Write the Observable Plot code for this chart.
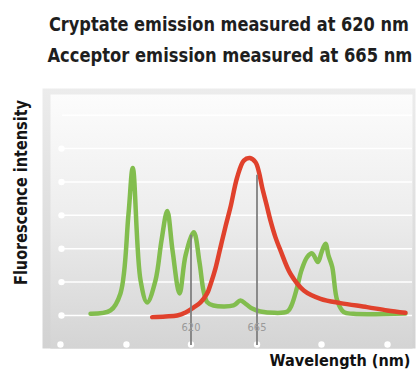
<!DOCTYPE html>
<html><head><meta charset="utf-8">
<script src="https://cdn.jsdelivr.net/npm/d3@7"></script>
<script src="https://cdn.jsdelivr.net/npm/@observablehq/plot@0.6"></script>
<style>
body{margin:0;background:#fff;width:416px;height:379px;overflow:hidden;font-family:"DejaVu Sans",sans-serif;}
#title{position:relative;height:78px;}
.tl{position:absolute;left:29px;width:387px;text-align:center;font-weight:bold;font-size:20px;line-height:20px;color:#1e1e1e;font-stretch:condensed;white-space:nowrap;}
.tl span{display:inline-block;transform-origin:center;}
#chart svg{display:block;overflow:visible;}
#chart svg text{font-stretch:condensed;}
</style></head><body>
<div id="title">
  <div class="tl" style="top:14px"><span data-w="360">Cryptate emission measured at 620 nm</span></div>
  <div class="tl" style="top:45px"><span data-w="365">Acceptor emission measured at 665 nm</span></div>
</div>
<div id="chart"></div>
<script>
// Donor (cryptate) emission spectrum — green
const greenNm = [551.5,565.1,571.9,577.4,580.3,585.6,590.1,595.8,599.9,603.8,607.4,612.2,616.3,621.9,625.8,628.5,631.0,635.3,649.0,653.7,657.8,661.7,667.4,685.8,688.5,692.4,695.3,699.2,702.6,706.5,709.0,711.7,713.7,716.3,719.7,724.2,730.8,766.2];
const greenI  = [0.05,0.15,0.66,3.05,4.42,1.05,0.39,1.05,2.25,3.13,1.95,0.66,1.8,2.49,1.59,0.75,0.40,0.30,0.30,0.45,0.33,0.21,0.12,0.12,0.30,0.85,1.35,1.75,1.86,1.6,1.89,2.15,1.8,1.45,0.45,0.10,0.05,0.06];
// Acceptor emission spectrum — red
const redNm = [593.5,602.6,610.6,616.3,621.9,626.5,631.0,633.3,636.7,640.1,643.5,646.9,651.5,656.0,660.1,664.0,666.4,668.5,671.5,674.2,677.6,681.0,687.8,696.9,708.3,721.9,740.1,753.8,766.2];
const redI  = [-0.05,-0.03,0,0.09,0.24,0.39,0.66,0.93,1.41,2.04,2.66,3.24,4.14,4.64,4.72,4.59,4.28,3.84,3.32,2.84,2.34,1.95,1.25,0.75,0.5,0.37,0.25,0.15,0.08];
// Measurement wavelengths
const markerNm = [620, 665];
const markerTop = [2.4, 4.2];
const markerLabels = ["620", "665"];
// Decorative grid levels and tick dots
const gridLevels = [0,1,2,3,4,5,6];
const dotLevels = [0,1,2,3,4,5];
const tickNm = [531, 576, 620, 665, 709, 754];

const xDomain = [518.75, 773.07];
const yDomain = [-0.99, 6.80];

const green = greenNm.map((x,i)=>({x, y: greenI[i]}));
const red = redNm.map((x,i)=>({x, y: redI[i]}));
const markers = markerNm.map((nm,i)=>({nm, top: markerTop[i], label: markerLabels[i]}));

const chart = Plot.plot({
  width: 416, height: 301,
  marginLeft: 42, marginRight: 1, marginTop: 10, marginBottom: 31,
  x: {domain: xDomain, axis: null},
  y: {domain: yDomain, axis: null},
  style: {fontFamily: '"DejaVu Sans",sans-serif', background: "transparent"},
  marks: [
    Plot.frame({fill: "url(#bgOuter)"}),
    Plot.frame({fill: "url(#bgInner)", insetLeft: 8, insetTop: 6, insetRight: 3}),
    Plot.ruleY(gridLevels, {y: d=>d, stroke: "#fff", strokeWidth: 1.5, insetLeft: 20, insetRight: 3}),
    Plot.dot(dotLevels, {y: d=>d, frameAnchor: "left", dx: 19, r: 3.2, fill: "#fff"}),
    Plot.dot(tickNm, {x: d=>d, frameAnchor: "bottom", dy: -4, r: 3.2, fill: "#fff"}),
    Plot.line(green, {x: "x", y: "y", stroke: "#82bd4e", strokeWidth: 4.5, curve: "catmull-rom"}),
    Plot.line(red, {x: "x", y: "y", stroke: "#e0412c", strokeWidth: 4.5, curve: "catmull-rom"}),
    Plot.ruleX(markers, {x: "nm", y1: "top", y2: () => yDomain[0], insetBottom: 3, stroke: "#808080", strokeWidth: 1.8}),
    Plot.text(markers, {x: "nm", text: "label", frameAnchor: "bottom", dy: -18, fill: "#9a9a9a", fontSize: 11}),
    Plot.text(["Fluorescence intensity"], {frameAnchor: "left", textAnchor: "middle", rotate: -90, dx: -21, dy: -26, fontWeight: "bold", fontSize: 18, fill: "#151515"}),
    Plot.text(["Wavelength (nm)"], {frameAnchor: "bottom-right", textAnchor: "end", dx: -5, dy: 17, fontWeight: "bold", fontSize: 16.5, fill: "#111"})
  ]
});

const svg = d3.select(chart);
const defs = svg.insert("defs", ":first-child");
const go = defs.append("linearGradient").attr("id","bgOuter").attr("x1",0).attr("y1",0).attr("x2",0).attr("y2",1);
go.append("stop").attr("offset","0%").attr("stop-color","#ececec");
go.append("stop").attr("offset","100%").attr("stop-color","#d2d2d2");
const gi = defs.append("linearGradient").attr("id","bgInner").attr("x1",0).attr("y1",0).attr("x2",0).attr("y2",1);
gi.append("stop").attr("offset","0%").attr("stop-color","#fcfcfc");
gi.append("stop").attr("offset","45%").attr("stop-color","#eeeeee");
gi.append("stop").attr("offset","100%").attr("stop-color","#d4d4d4");

svg.selectAll("text").each(function(){
  const t = this.textContent;
  if (t === "Fluorescence intensity") d3.select(this).attr("textLength", 185).attr("lengthAdjust","spacingAndGlyphs");
  if (t === "Wavelength (nm)") d3.select(this).attr("textLength", 141).attr("lengthAdjust","spacingAndGlyphs");
});

document.getElementById("chart").appendChild(chart);

document.querySelectorAll(".tl span").forEach(s => {
  const w = s.getBoundingClientRect().width;
  const target = +s.dataset.w;
  s.style.transform = `scaleX(${target / w})`;
});
</script>
</body></html>
